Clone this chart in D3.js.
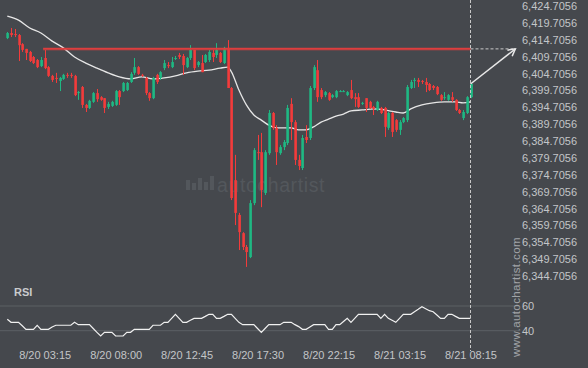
<!DOCTYPE html>
<html><head><meta charset="utf-8">
<script src="https://cdn.jsdelivr.net/npm/d3@7/dist/d3.min.js"></script>
<style>
html,body{margin:0;padding:0;background:#45484d;}
svg{display:block;}
text{font-family:"Liberation Sans",Arial,sans-serif;}
</style></head><body>
<svg id="chart" width="588" height="368"></svg>
<script>
// ---- data ----
const opens = [6415.2,6416.7,6416.4,6416.1,6413.4,6412.0,6411.1,6409.6,6408.7,6406.9,
6409.3,6406.6,6404.0,6403.4,6402.5,6403.1,6404.3,6404.3,6404.0,6398.9,
6400.7,6395.4,6394.5,6396.3,6398.9,6397.7,6397.4,6394.8,6395.1,6395.4,
6399.5,6399.5,6399.8,6402.2,6404.9,6406.6,6404.3,6403.4,6398.9,6397.4,
6404.3,6403.4,6406.3,6407.2,6406.6,6409.0,6410.2,6409.9,6406.6,6409.3,
6411.7,6407.2,6407.8,6408.1,6408.7,6410.8,6410.2,6410.8,6407.8,6412.3,
6400.4,6373.1,6362.8,6357.4,6353.3,6350.3,6366.3,6381.4,6381.4,6369.3,
6381.1,6393.0,6388.6,6381.1,6382.9,6384.1,6395.7,6390.3,6379.1,6376.7,
6385.9,6385.6,6400.4,6405.7,6399.8,6398.3,6398.9,6397.7,6397.7,6399.2,
6399.2,6398.3,6399.8,6397.7,6397.7,6395.7,6397.4,6396.3,6394.8,6393.9,
6394.5,6394.5,6388.6,6393.0,6390.9,6388.0,6390.3,6390.9,6400.4,6402.5,
6402.8,6402.5,6402.2,6401.6,6401.0,6400.7,6398.3,6397.4,6396.9,6397.7,
6396.9,6393.9,6391.5,6393.0,6397.7];
const closes = [6416.7,6416.1,6416.1,6413.1,6411.7,6410.8,6408.4,6407.8,6406.6,6408.7,
6406.3,6404.0,6402.8,6403.1,6403.4,6404.3,6404.0,6404.0,6398.3,6399.2,
6395.4,6394.5,6396.6,6398.9,6397.1,6396.9,6394.5,6395.7,6396.3,6399.5,
6397.7,6401.9,6401.9,6404.6,6406.6,6404.6,6404.0,6398.9,6397.4,6403.4,
6402.2,6405.1,6407.8,6406.9,6408.1,6409.3,6409.6,6407.2,6409.3,6411.7,
6406.3,6408.1,6405.1,6410.2,6411.1,6409.6,6411.7,6408.1,6412.3,6400.4,
6367.8,6363.4,6357.7,6353.3,6351.8,6366.3,6382.0,6381.1,6370.2,6381.4,
6393.0,6388.6,6381.4,6382.9,6384.4,6394.5,6390.3,6379.1,6377.3,6385.6,
6385.0,6400.4,6406.6,6397.7,6397.7,6399.2,6396.9,6398.3,6399.5,6399.5,
6399.5,6399.2,6397.4,6397.1,6394.8,6396.0,6394.5,6394.5,6394.2,6396.3,
6393.0,6388.9,6393.0,6387.4,6388.0,6390.3,6391.5,6400.7,6402.2,6402.8,
6402.2,6402.2,6401.3,6399.8,6400.4,6398.6,6396.9,6397.7,6398.3,6396.9,
6393.9,6393.0,6393.3,6397.7,6401.6];
const highs = [6417.0,6418.2,6417.9,6416.4,6413.7,6412.0,6411.4,6409.9,6409.0,6409.6,
6411.7,6406.9,6404.3,6404.9,6403.7,6404.6,6404.9,6404.9,6404.3,6399.5,
6401.0,6395.7,6396.9,6399.2,6400.1,6398.0,6397.4,6396.3,6396.6,6399.8,
6399.8,6402.2,6402.2,6405.1,6409.3,6406.9,6404.6,6403.7,6399.2,6403.7,
6404.6,6405.4,6408.7,6408.1,6409.6,6409.9,6410.8,6410.5,6409.6,6413.1,
6411.7,6408.4,6410.2,6410.5,6411.7,6411.7,6413.7,6411.1,6412.6,6414.6,
6400.7,6380.6,6363.4,6357.7,6353.9,6367.2,6382.6,6386.5,6387.1,6382.0,
6393.9,6393.3,6389.4,6383.5,6385.0,6395.4,6397.4,6390.9,6380.6,6386.5,
6389.4,6401.0,6407.2,6408.7,6400.4,6399.5,6399.2,6398.6,6399.8,6399.8,
6399.8,6399.5,6402.8,6398.9,6398.9,6396.3,6397.4,6396.6,6395.1,6396.6,
6394.8,6394.8,6393.3,6393.3,6391.2,6390.9,6391.8,6401.3,6402.8,6403.4,
6403.4,6402.8,6403.4,6401.9,6401.3,6401.0,6398.6,6399.2,6398.6,6399.2,
6397.1,6394.2,6393.9,6398.0,6401.9];
const lows = [6414.9,6415.5,6415.5,6408.4,6411.1,6408.7,6408.1,6407.5,6406.3,6406.6,
6406.0,6403.7,6402.2,6401.9,6399.5,6402.8,6403.4,6403.4,6398.0,6396.9,
6394.5,6393.3,6394.2,6396.0,6396.3,6396.6,6393.0,6394.2,6394.8,6395.1,
6395.4,6399.2,6399.5,6401.9,6404.3,6404.3,6403.7,6398.3,6396.6,6397.1,
6401.6,6402.8,6405.7,6406.3,6406.3,6408.7,6409.0,6404.3,6406.3,6408.7,
6405.7,6406.6,6405.1,6407.8,6408.1,6408.1,6409.3,6407.8,6407.5,6400.4,
6367.2,6359.8,6352.4,6352.4,6347.4,6350.0,6365.7,6379.1,6365.1,6368.7,
6380.6,6388.0,6377.6,6380.6,6382.0,6383.5,6385.0,6377.6,6376.1,6376.1,
6384.1,6385.0,6399.8,6396.3,6397.1,6397.7,6396.6,6397.4,6397.4,6399.2,
6399.2,6398.0,6397.1,6394.8,6394.5,6395.4,6393.3,6394.2,6392.4,6393.6,
6392.7,6385.9,6388.0,6385.9,6387.4,6386.5,6390.0,6390.3,6400.1,6400.4,
6400.7,6401.6,6399.2,6399.5,6399.8,6398.3,6396.6,6396.9,6396.6,6396.3,
6393.6,6392.7,6390.9,6392.7,6397.4];
// moving average (bar index, value)
const maIndex = [0,3,6,9,12,15,18,21,24,27,30,33,36,39,42,45,48,51,54,57,59,60,62,64,66,68,70,72,74,76,78,80,82,84,86,88,90,92,95,98,101,104,106,108,111,114,117,120,122,124];
const maValues = [6421.7,6420.5,6418.2,6416.7,6414.3,6412.3,6409.6,6407.8,6406.3,6404.9,6403.7,6403.1,6403.7,6403.1,6403.4,6404.0,6404.9,6405.4,6405.7,6406.3,6406.6,6405.2,6399.8,6395.4,6392.4,6390.9,6389.4,6388.6,6388.6,6388.6,6388.0,6388.0,6388.9,6390.3,6391.2,6392.1,6392.7,6393.6,6393.9,6394.2,6393.9,6393.3,6393.0,6394.2,6395.4,6396.0,6396.3,6396.3,6396.0,6396.3];
const rsiValues = [49.2,46.8,46.8,46.8,44,41.1,41.1,41.1,44.4,41.1,
41.1,41.1,43,44.4,44.4,44.4,44.4,44.4,46.8,44.9,
44.9,44.9,44.9,41.8,38.7,35.7,38.7,38.7,38.7,35.7,
35.7,35.7,38.7,38.7,41.1,41.1,41.1,41.1,41.1,44.4,
44.4,44.4,46.8,46.8,50,53.3,50,46.8,46.8,48.4,
50,50,50,51.6,53.3,53.3,50,50,51.6,53.3,
53.3,50,46.8,44.9,44.9,44.9,44.9,41.8,38.7,41.8,
44.9,44.9,44.9,44.9,46.8,46.8,46.8,44.9,43.3,41.1,
41.1,43,44.9,44.9,44.9,44.9,41.1,41.1,44.9,44.9,
47.5,50,46.8,50,53.3,53.3,53.3,53.3,53.3,53.3,
50,53.3,50,48.4,46.8,50,53.3,53.3,53.3,55.3,
57.3,59.4,57.8,56.2,55.4,52.7,50,50,53.3,53.3,
51.6,50,50,50,50];
const priceTicks = [6424.7056,6419.7056,6414.7056,6409.7056,6404.7056,6399.7056,6394.7056,6389.7056,6384.7056,6379.7056,6374.7056,6369.7056,6364.7056,6359.7056,6354.7056,6349.7056,6344.7056];
const rsiTicks = [60,40];
const timeTickIndex = [10,29,48,67,86,105,124];
const timeTickLabels = ["8/20 03:15","8/20 08:00","8/20 12:45","8/20 17:30","8/20 22:15","8/21 03:15","8/21 08:15"];
const resistanceLevel = 6412.0;
const resistanceStartIndex = 10;
const projectionBars = 12;

// ---- drawing ----
const svg = d3.select("#chart");
const W = 588, H = 368;
const n = closes.length;
const x = d3.scaleLinear().domain([0, n - 1]).range([7.3, 470.5]);
const y = d3.scaleLinear().domain([6344.7056, 6424.7056]).range([276, 6]);
const yr = d3.scaleLinear().domain([40, 60]).range([330.7, 306]);
const GREEN = "#1fb883", RED = "#f33b3b";

svg.append("rect").attr("width", W).attr("height", H).attr("fill", "#45484d");

// watermark
const wm = svg.append("g").attr("fill", "#53575c");
[[186,180,4,10],[192,183,4,7],[198,178,4,12],[204,182,4,8],[210,176,4,14]].forEach(b => {
  wm.append("rect").attr("x", b[0]).attr("y", b[1]).attr("width", b[2]).attr("height", b[3]);
});
wm.append("text").attr("x", 217).attr("y", 192).attr("font-size", 19.5)
  .attr("font-family", "'DejaVu Sans', sans-serif").attr("font-weight", 300)
  .attr("letter-spacing", 0.6).text("autochartist");

// RSI grid lines
svg.append("g").selectAll("line").data(rsiTicks).join("line")
  .attr("x1", 0).attr("x2", 519).attr("y1", d => yr(d)).attr("y2", d => yr(d))
  .attr("stroke", "#5c6065").attr("stroke-width", 1);

// moving average
const ma = maIndex.map((d, i) => [d, maValues[i]]);
svg.append("path").datum(ma)
  .attr("d", d3.line().x(d => x(d[0])).y(d => y(d[1])).curve(d3.curveMonotoneX))
  .attr("fill", "none").attr("stroke", "#e6e6e6").attr("stroke-width", 1.3);

// candles
const candles = d3.range(n).map(i => ({i, o: opens[i], c: closes[i], h: highs[i], l: lows[i]}));
const cg = svg.append("g");
cg.selectAll("line").data(candles).join("line")
  .attr("x1", d => Math.round(x(d.i)) + 0.5).attr("x2", d => Math.round(x(d.i)) + 0.5)
  .attr("y1", d => y(d.h)).attr("y2", d => y(d.l))
  .attr("stroke", d => d.c >= d.o ? GREEN : RED).attr("stroke-width", 1);
cg.selectAll("rect").data(candles).join("rect")
  .attr("x", d => Math.round(x(d.i)) - 0.7).attr("width", 2.6)
  .attr("y", d => y(Math.max(d.o, d.c)))
  .attr("height", d => Math.max(1, Math.abs(y(d.o) - y(d.c))))
  .attr("fill", d => d.c >= d.o ? GREEN : RED);

// resistance line
const rx1 = x(resistanceStartIndex) - 1.5, rx2 = x(n - 1);
svg.append("line").attr("x1", rx1).attr("x2", rx2).attr("y1", y(resistanceLevel)).attr("y2", y(resistanceLevel))
  .attr("stroke", "#e0403f").attr("stroke-opacity", 0.3).attr("stroke-width", 3.5);
svg.append("line").attr("x1", rx1).attr("x2", rx2).attr("y1", y(resistanceLevel)).attr("y2", y(resistanceLevel))
  .attr("stroke", "#de3e3e").attr("stroke-width", 1.8);

// projection dashed line + arrow
const ax2 = x(n - 1 + projectionBars);
svg.append("line").attr("x1", rx2).attr("x2", ax2).attr("y1", y(resistanceLevel)).attr("y2", y(resistanceLevel))
  .attr("stroke", "#c8c8c8").attr("stroke-width", 1).attr("stroke-dasharray", "3,2");
// vertical dashed line at last bar
svg.append("line").attr("x1", x(n - 1)).attr("x2", x(n - 1)).attr("y1", 0).attr("y2", 351)
  .attr("stroke", "#c8c8c8").attr("stroke-width", 1).attr("stroke-dasharray", "3,2");
const ax1 = x(n - 1), ay1 = y(closes[n - 1]), ay2 = y(resistanceLevel);
svg.append("line").attr("x1", ax1).attr("y1", ay1).attr("x2", ax2).attr("y2", ay2)
  .attr("stroke", "#e8e8e8").attr("stroke-width", 1.5);
const ang = Math.atan2(ay2 - ay1, ax2 - ax1);
const hl = 8, ha = 0.5;
svg.append("path")
  .attr("d", `M${ax2 - hl * Math.cos(ang - ha)},${ay2 - hl * Math.sin(ang - ha)}L${ax2},${ay2}L${ax2 - hl * Math.cos(ang + ha)},${ay2 - hl * Math.sin(ang + ha)}`)
  .attr("fill", "none").attr("stroke", "#e8e8e8").attr("stroke-width", 1.5);

// RSI line
svg.append("path").datum(rsiValues)
  .attr("d", d3.line().x((d, i) => x(i)).y(d => yr(d)))
  .attr("fill", "none").attr("stroke", "#f0f0f0").attr("stroke-width", 1.2);
svg.append("text").attr("x", 14).attr("y", 296).attr("font-size", 11).attr("font-weight", "bold")
  .attr("fill", "#c9cbcd").text("RSI");

// price axis
const pa = svg.append("g").attr("transform", "translate(519,0)")
  .call(d3.axisRight(y).tickValues(priceTicks).tickFormat(d3.format(",.4f")).tickSize(0).tickPadding(3));
pa.select(".domain").remove();
pa.selectAll("text").attr("fill", "#c3c5c8").attr("font-size", 11).attr("font-family", "'Liberation Sans', Arial, sans-serif");

// RSI axis
const ra = svg.append("g").attr("transform", "translate(519,0)")
  .call(d3.axisRight(yr).tickValues(rsiTicks).tickSize(0).tickPadding(3));
ra.select(".domain").remove();
ra.selectAll("text").attr("fill", "#c3c5c8").attr("font-size", 11).attr("font-family", "'Liberation Sans', Arial, sans-serif");

// time axis
const ta = svg.append("g").attr("transform", "translate(0,348)")
  .call(d3.axisBottom(x).tickValues(timeTickIndex).tickFormat((d, i) => timeTickLabels[i]).tickSize(0).tickPadding(3));
ta.select(".domain").remove();
ta.selectAll("text").attr("fill", "#c3c5c8").attr("font-size", 11).attr("font-family", "'Liberation Sans', Arial, sans-serif");

// vertical site text
svg.append("text").attr("transform", "translate(520,297) rotate(-90)")
  .attr("text-anchor", "middle").attr("font-size", 11.5).attr("fill", "#a0a3a7")
  .attr("letter-spacing", 0.4).text("www.autochartist.com");
</script>
</body></html>
